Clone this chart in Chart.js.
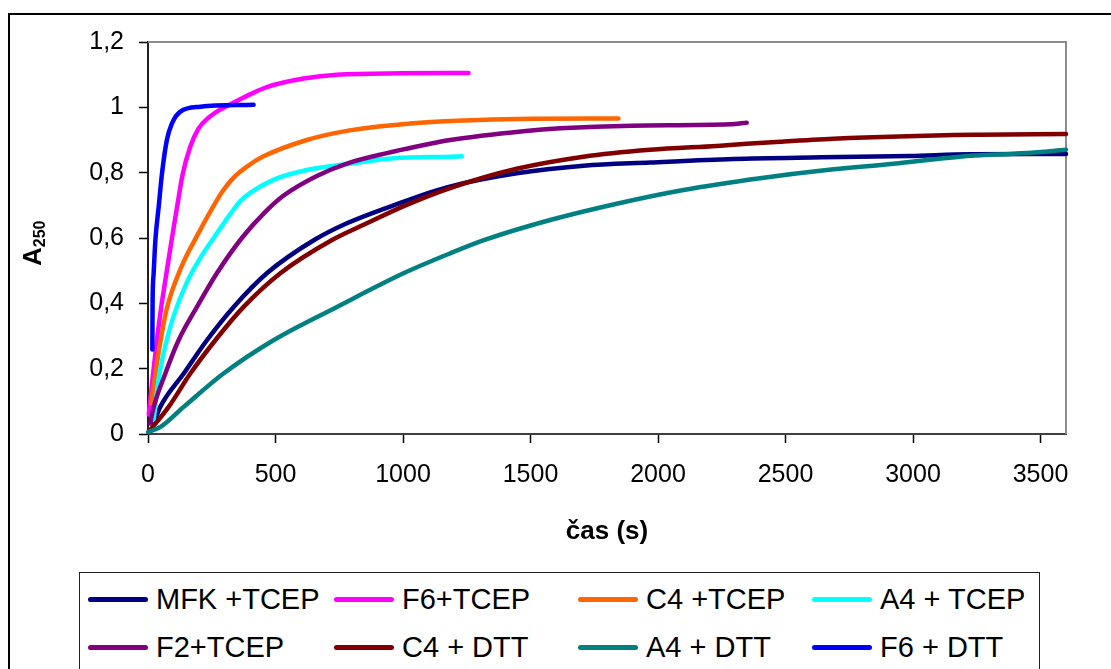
<!DOCTYPE html>
<html>
<head>
<meta charset="utf-8">
<script src="https://cdn.jsdelivr.net/npm/chart.js@4.4.1/dist/chart.umd.min.js"></script>
<style>
  html, body { margin: 0; padding: 0; background: #fff; overflow: hidden; }
  #wrap { position: relative; width: 1111px; height: 669px; overflow: hidden; font-family: "Liberation Sans", Arial, sans-serif; }
  #frame { position: absolute; left: 8px; top: 13px; width: 1200px; height: 800px; border-left: 2px solid #000; border-top: 2px solid #000; }
  #chart { position: absolute; left: 0; top: 0; }
  #legend { position: absolute; left: 79px; top: 572px; width: 959px; height: 200px; border: 1.5px solid #222; background: #fff; }
  .item { position: absolute; height: 34px; display: flex; align-items: center; font-size: 29px; color: #000; white-space: nowrap; }
  .swatch { width: 60px; height: 5px; border-radius: 3px; margin-right: 8px; }
</style>
</head>
<body>
<div id="wrap">
  <div id="frame"></div>
  <canvas id="chart" width="1111" height="669"></canvas>
  <div id="legend"></div>
</div>
<script>
// tick labels
const xTicks = [0, 500, 1000, 1500, 2000, 2500, 3000, 3500];
const yTicks = [0, 0.2, 0.4, 0.6, 0.8, 1, 1.2];

// series (cas in s, A250)
const seriesNames = ["MFK +TCEP", "F6+TCEP", "C4 +TCEP", "A4 + TCEP", "F2+TCEP", "C4 + DTT", "A4 + DTT", "F6 + DTT"];

const mfkTcepT = [20, 48, 140, 231, 336, 466, 650, 780, 963, 1172, 1446, 1708, 1969, 2296, 2642, 2988, 3223, 3600];
const mfkTcepA = [0.027, 0.083, 0.185, 0.287, 0.389, 0.492, 0.593, 0.645, 0.700, 0.755, 0.798, 0.821, 0.831, 0.842, 0.847, 0.851, 0.856, 0.857];

const f6TcepT = [3, 20, 35, 52, 68, 94, 114, 136, 166, 198, 240, 283, 320, 388, 466, 610, 741, 1000, 1257];
const f6TcepA = [0.06, 0.185, 0.287, 0.389, 0.47, 0.60, 0.695, 0.795, 0.880, 0.935, 0.970, 0.993, 1.008, 1.035, 1.062, 1.088, 1.100, 1.104, 1.105];

const c4TcepT = [12, 29, 48, 74, 130, 198, 251, 290, 336, 400, 453, 623, 780, 1054, 1185, 1512, 1845];
const c4TcepA = [0.093, 0.185, 0.280, 0.385, 0.510, 0.615, 0.690, 0.740, 0.785, 0.825, 0.850, 0.900, 0.928, 0.952, 0.958, 0.965, 0.966];

const a4TcepT = [22, 42, 68, 100, 153, 210, 262, 329, 365, 401, 492, 623, 806, 963, 1185, 1231];
const a4TcepA = [0.042, 0.170, 0.270, 0.360, 0.465, 0.545, 0.605, 0.680, 0.715, 0.738, 0.778, 0.808, 0.829, 0.844, 0.849, 0.850];

const f2TcepT = [9, 16, 68, 120, 192, 270, 368, 460, 532, 662, 780, 937, 1054, 1185, 1472, 1617, 1897, 2283, 2348];
const f2TcepA = [0.032, 0.063, 0.185, 0.287, 0.389, 0.492, 0.600, 0.680, 0.730, 0.790, 0.828, 0.860, 0.880, 0.900, 0.927, 0.936, 0.944, 0.948, 0.953];

const c4DttT = [2, 81, 166, 264, 375, 519, 720, 858, 1010, 1185, 1446, 1708, 1969, 2231, 2479, 2688, 3237, 3600];
const c4DttA = [0.006, 0.083, 0.185, 0.287, 0.389, 0.492, 0.593, 0.645, 0.700, 0.753, 0.812, 0.849, 0.870, 0.882, 0.895, 0.904, 0.916, 0.918];

const a4DttT = [0, 48, 140, 296, 492, 741, 1002, 1185, 1320, 1577, 1838, 2100, 2400, 2662, 2923, 3184, 3446, 3600];
const a4DttA = [0.006, 0.021, 0.083, 0.185, 0.287, 0.389, 0.492, 0.553, 0.594, 0.655, 0.705, 0.747, 0.783, 0.808, 0.827, 0.849, 0.860, 0.870];

const f6DttT = [17, 18, 22, 29, 42, 55, 74, 94, 127, 205, 414];
const f6DttA = [0.259, 0.40, 0.49, 0.594, 0.696, 0.798, 0.90, 0.951, 0.987, 1.002, 1.008];

const seriesT = [mfkTcepT, f6TcepT, c4TcepT, a4TcepT, f2TcepT, c4DttT, a4DttT, f6DttT];
const seriesA = [mfkTcepA, f6TcepA, c4TcepA, a4TcepA, f2TcepA, c4DttA, a4DttA, f6DttA];
const colors = ["#000080", "#FF00FF", "#FF6600", "#00FFFF", "#800080", "#800000", "#008080", "#0000FF"];

const family = '"Liberation Sans", Arial, sans-serif';

const datasets = seriesNames.map((name, i) => ({
    label: name,
    data: seriesT[i].map((t, j) => ({ x: t, y: seriesA[i][j] })),
    borderColor: colors[i],
    backgroundColor: colors[i],
    borderWidth: 4.5,
    pointRadius: 0,
    cubicInterpolationMode: "monotone",
    borderCapStyle: "round",
    borderJoinStyle: "round",
    clip: false,
    order: seriesNames.length - i // later series on top, like Excel
}));

// gray frame on top/right + axis titles
const framePlugin = {
    id: "frame",
    beforeDatasetsDraw(c) {
        const { ctx, chartArea: a } = c;
        ctx.save();
        ctx.strokeStyle = "#8c8c8c";
        ctx.lineWidth = 2;
        ctx.beginPath();
        ctx.moveTo(a.left, a.top);
        ctx.lineTo(a.right, a.top);
        ctx.lineTo(a.right, a.bottom);
        ctx.stroke();
        ctx.restore();
    },
    afterDraw(c) {
        const { ctx, chartArea: a } = c;
        ctx.save();
        ctx.fillStyle = "#000";
        ctx.font = "bold 26px " + family;
        ctx.textAlign = "center";
        ctx.textBaseline = "alphabetic";
        ctx.fillText("čas (s)", (a.left + a.right) / 2, 539);

        ctx.translate(41, 266);
        ctx.rotate(-Math.PI / 2);
        ctx.textAlign = "left";
        ctx.font = "bold 26px " + family;
        ctx.fillText("A", 0, 0);
        const w = ctx.measureText("A").width;
        ctx.font = "bold 16px " + family;
        ctx.fillText("250", w, 4);
        ctx.restore();
    }
};

const chart = new Chart(document.getElementById("chart").getContext("2d"), {
    type: "line",
    data: { datasets: datasets },
    plugins: [framePlugin],
    options: {
        responsive: false,
        animation: false,
        layout: { padding: { left: 0, top: 42, right: 45, bottom: 0 } },
        plugins: { legend: { display: false }, tooltip: { enabled: false } },
        scales: {
            x: {
                type: "linear",
                min: 0,
                max: 3600,
                afterBuildTicks: s => { s.ticks = xTicks.map(v => ({ value: v })); },
                afterFit: s => { s.height = 235; },
                grid: { drawOnChartArea: false, tickLength: 9, color: "#000", tickWidth: 1.5 },
                border: { color: "#404040", width: 2 },
                ticks: {
                    font: { size: 25, family: family },
                    color: "#000",
                    padding: 17,
                    maxRotation: 0,
                    callback: v => String(v)
                }
            },
            y: {
                type: "linear",
                min: 0,
                max: 1.2,
                afterBuildTicks: s => { s.ticks = yTicks.map(v => ({ value: v })); },
                afterFit: s => { s.width = 148; },
                grid: { drawOnChartArea: false, tickLength: 9, color: "#000", tickWidth: 1.5 },
                border: { color: "#202020", width: 2 },
                ticks: {
                    font: { size: 25, family: family },
                    color: "#000",
                    padding: 15,
                    callback: v => String(v).replace(".", ",")
                }
            }
        }
    }
});

// legend box, 4 columns x 2 rows like the original
const legendCols = [88, 334, 578, 812];
const legendRows = [599, 647];
const wrap = document.getElementById("wrap");
chart.data.datasets.forEach((ds, i) => {
    const item = document.createElement("div");
    item.className = "item";
    item.style.left = legendCols[i % 4] + "px";
    item.style.top = (legendRows[Math.floor(i / 4)] - 17) + "px";
    const sw = document.createElement("span");
    sw.className = "swatch";
    sw.style.background = ds.borderColor;
    const txt = document.createElement("span");
    txt.textContent = ds.label;
    item.appendChild(sw);
    item.appendChild(txt);
    wrap.appendChild(item);
});
</script>
</body>
</html>
